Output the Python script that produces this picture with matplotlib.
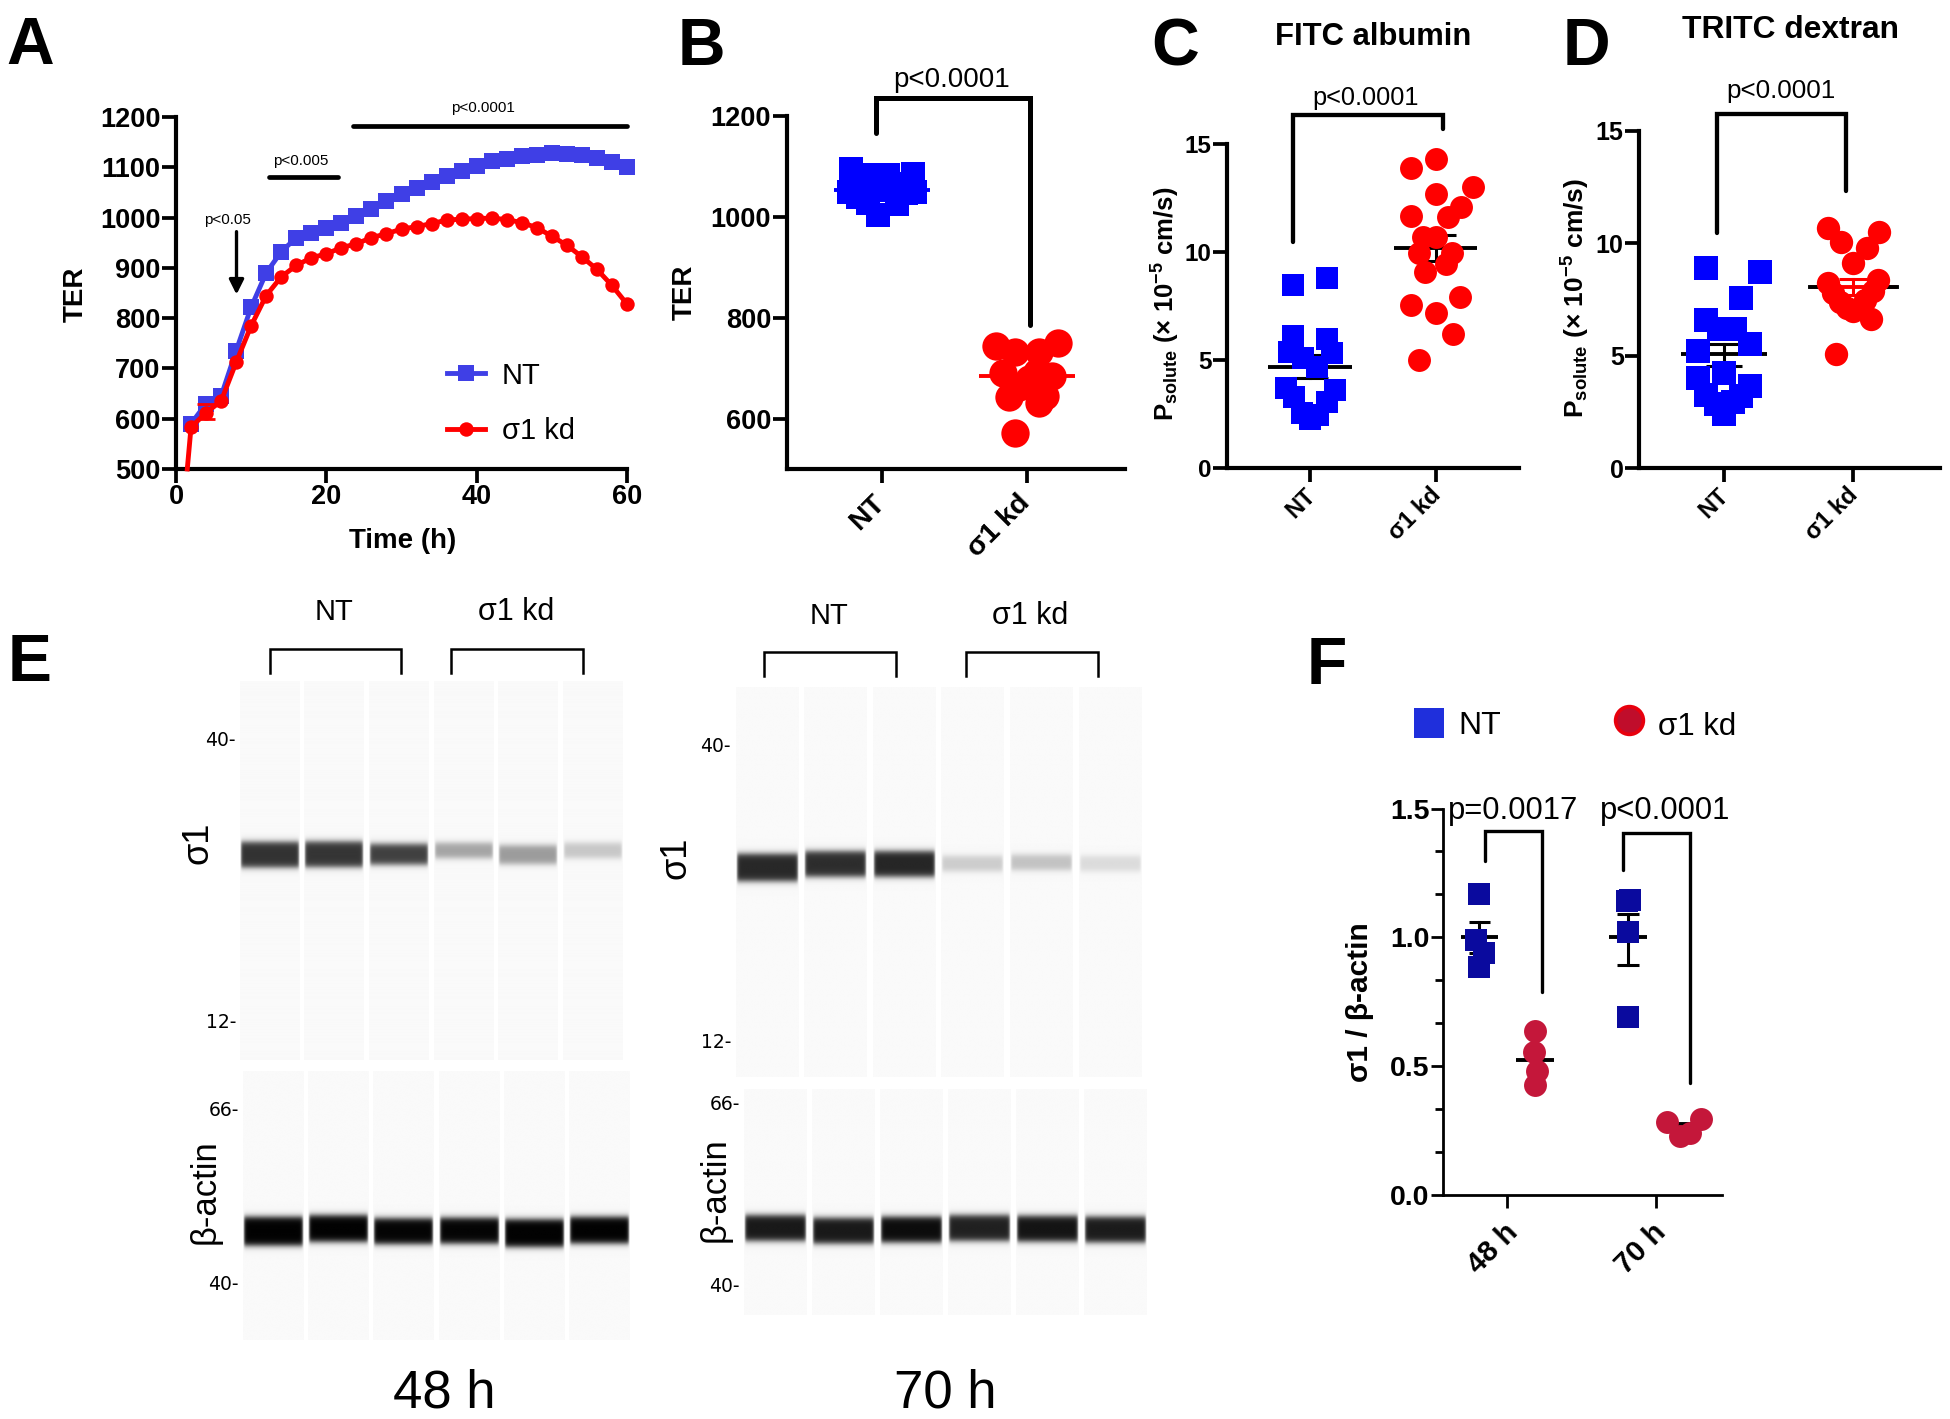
import numpy as np
import matplotlib
matplotlib.use("Agg")
import matplotlib.pyplot as plt
from matplotlib.transforms import ScaledTranslation

plt.rcParams['font.family'] = ['Liberation Sans', 'DejaVu Sans']
plt.rcParams['mathtext.fontset'] = 'custom'
plt.rcParams['mathtext.bf'] = 'Liberation Sans:bold'
plt.rcParams['mathtext.rm'] = 'Liberation Sans'
plt.rcParams['mathtext.it'] = 'Liberation Sans:italic'

W, H = 1950, 1419

# ======================== panel A, TER over time
time_h = [2, 4, 6, 8, 10, 12, 14, 16, 18, 20, 22, 24, 26, 28, 30, 32, 34, 36, 38, 40,
          42, 44, 46, 48, 50, 52, 54, 56, 58, 60]
ter_nt = [590, 630, 645, 735, 822, 890, 932, 960, 970, 980, 990, 1003, 1018, 1033, 1046,
          1058, 1070, 1082, 1092, 1102, 1112, 1117, 1123, 1125, 1128, 1127, 1124, 1118, 1110, 1100]
ter_kd = [583, 612, 635, 712, 785, 845, 882, 905, 920, 928, 940, 948, 960, 968, 977,
          982, 988, 995, 997, 998, 999, 996, 990, 980, 963, 945, 922, 897, 865, 828]
ter_kd_start = (1.5, 500)

# ======================== panel B, TER end point
b_nt_dx = [-.212, -.048, .043, .212, -.225, .23, -.163, .166, -.099, .101, -.03, -.129, .124, -.037, .055]
b_nt = [1095, 1082, 1082, 1085, 1048, 1049, 1038, 1046, 1026, 1024, 1004, 1065, 1065, 1052, 1052]
b_nt_mean = 1052
b_kd_dx = [-.211, -.085, .085, .211, -.169, .169, .014, -.056, -.127, .127, .085, -.085, .07]
b_kd = [743, 731, 732, 749, 691, 685, 678, 663, 642, 645, 631, 572, 692]
b_kd_mean = 685

# ======================== panel C, FITC albumin
c_nt_dx = [-.133, .138, -.135, .135, -.167, .172, -.056, .056, -.19, .199, -.127, .135, -.064, .064, 0]
c_nt = [8.49, 8.81, 6.13, 5.99, 5.39, 5.33, 5.1, 4.7, 3.73, 3.62, 3.3, 3.08, 2.56, 2.47, 2.27]
c_nt_mean, c_nt_sem = 4.7, (4.19, 5.24)
c_kd_dx = [-.198, 0, 0, .297, .201, .099, -.198, 0, -.099, -.132, .132, .083, -.083, -.198, .198, 0, .135, -.132]
c_kd = [13.87, 14.3, 12.65, 13.0, 12.07, 11.6, 11.65, 10.7, 10.7, 9.97, 9.97, 9.46, 9.09, 7.56, 7.9, 7.16, 6.2, 5.0]
c_kd_mean, c_kd_sem = 10.17, (9.58, 10.8)

# ======================== panel D, TRITC dextran
d_nt_dx = [-.135, .276, .135, -.135, .087, -.042, .2, -.2, 0, -.2, .2, .135, -.135, -.064, .07, 0]
d_nt = [8.9, 8.73, 7.56, 6.6, 6.2, 6.2, 5.54, 5.22, 4.25, 4.04, 3.65, 3.2, 3.28, 2.88, 2.96, 2.44]
d_nt_mean, d_nt_sem = 5.09, (4.57, 5.54)
d_kd_dx = [-.199, -.099, .199, .102, 0, -.194, .19, -.158, .151, -.104, .089, -.052, 0, .063, .139, -.135]
d_kd = [10.68, 10.08, 10.52, 9.81, 9.12, 8.25, 8.37, 7.8, 7.9, 7.41, 7.48, 7.13, 7.01, 7.13, 6.63, 5.08]
d_kd_mean, d_kd_sem = 8.08, (7.7, 8.42)

# ======================== panel F, sigma1 / actin
f_nt_48 = [1.168, 0.99, 0.94, 0.885]
f_kd_48 = [0.635, 0.556, 0.48, 0.426]
f_nt_70 = [1.14, 1.146, 1.02, 0.69]
f_nt_70_dx = [-.01, .012, 0, 0]
f_kd_70 = [0.283, 0.295, 0.228, 0.24]
f_kd_70_dx = [-.114, .119, -.028, .044]
f_labels = ['48 h', '70 h']

# ======================== panel E, band place (fraction of lane), thickness, darkness
s48_pos = [.458, .457, .457, .447, .458, .447]
s48_thick = [.067, .067, .054, .04, .049, .04]
s48_dark = [.78, .77, .73, .34, .37, .2]
a48_pos = [.597, .587, .597, .595, .604, .593]
a48_thick = [.106, .098, .095, .095, .102, .098]
a48_dark = [.97, .97, .96, .96, .97, .97]
s70_pos = [.464, .455, .455, .454, .451, .454]
s70_thick = [.07, .065, .065, .039, .039, .039]
s70_dark = [.82, .8, .83, .18, .22, .12]
a70_pos = [.615, .627, .622, .615, .618, .622]
a70_thick = [.113, .113, .113, .113, .113, .113]
a70_dark = [.88, .88, .93, .85, .9, .87]

NT_BLUE = '#0000ff'
KD_RED = '#ff0000'


def make_ax(left, right, top, bottom):
    ax = fig.add_axes([left / W, 1 - bottom / H, (right - left) / W, (bottom - top) / H])
    ax.spines['top'].set_visible(False)
    ax.spines['right'].set_visible(False)
    ax.patch.set_alpha(0)
    return ax


def style_ax(ax, spine=3.0, tick=10, width=2.7, size=19.5):
    ax.spines['left'].set_linewidth(spine)
    ax.spines['bottom'].set_linewidth(spine)
    ax.tick_params(length=tick, width=width, labelsize=size, pad=1)
    for lab in ax.get_yticklabels():
        lab.set_fontweight('bold')
    for lab in ax.get_xticklabels():
        lab.set_fontweight('bold')


# call after style_ax, tick_params puts the label transform back
def cat_xticks(ax, labels, size, shift=0, drop=0):
    ax.set_xticks([1, 2])
    ax.set_xticklabels(labels, rotation=45, ha='right', rotation_mode='anchor',
                       fontsize=size, fontweight='bold')
    off = ScaledTranslation(shift / 100, -drop / 100, fig.dpi_scale_trans)
    for lab in ax.get_xticklabels():
        lab.set_transform(lab.get_transform() + off)


def scatter_group(ax, center, dx, vals, marker, color, ms, mean, sem=None, line='k', half=.333, cap=.14):
    xs = [center + d for d in dx]
    ax.plot([center - half, center + half], [mean, mean], color=line, lw=2.8, zorder=2, solid_capstyle='butt')
    if sem is not None:
        ax.plot([center, center], sem, color=line, lw=2.2, zorder=2)
        for s in sem:
            ax.plot([center - cap, center + cap], [s, s], color=line, lw=2.2, zorder=2, solid_capstyle='butt')
    ax.plot(xs, vals, ls='none', marker=marker, color=color, ms=ms, mew=0, zorder=3, clip_on=False)


def bracket(ax, x0, x1, y0, ytop, y1, lw=3.0):
    ax.plot([x0, x0, x1, x1], [y0, ytop, ytop, y1], color='k', lw=lw, clip_on=False,
            solid_joinstyle='miter', solid_capstyle='round', zorder=4)


def gel(left, pitch, top, bottom, lane_frac, pos, thick, dark):
    ax = fig.add_axes([left / W, 1 - bottom / H, 6 * pitch / W, (bottom - top) / H])
    ax.axis('off')
    soft = 3.6 / (bottom - top)
    yy = np.linspace(0, 1, 700)
    xx = np.linspace(0, 1, 120)
    edge = np.tanh(xx / .03) * np.tanh((1 - xx) / .03)
    for i in range(6):
        up = pos[i] - thick[i] / 2
        low = pos[i] + thick[i] / 2
        prof = 0.5 * (np.tanh((yy - up) / soft) - np.tanh((yy - low) / soft))
        img = 0.977 - dark[i] * np.outer(prof, edge)
        ax.imshow(img, cmap='gray', vmin=0, vmax=1, aspect='auto', interpolation='bilinear',
                  extent=(i, i + lane_frac, 1, 0))
    ax.set_xlim(0, 6)
    ax.set_ylim(1, 0)


fig = plt.figure(figsize=(W / 100, H / 100), dpi=100, facecolor='white')

# ======================== A
axA = make_ax(176, 627, 117, 469)
axA.plot(time_h, ter_nt, color='#3f3fe6', lw=3.5, marker='s', ms=11, mew=0, label='NT', zorder=3, clip_on=False)
axA.plot([ter_kd_start[0]] + time_h, [ter_kd_start[1]] + ter_kd, color=KD_RED, lw=3.5, marker='o', ms=10.4,
         mew=0, label='σ1 kd', zorder=4, clip_on=False, markevery=list(range(1, 31)))
axA.errorbar([4], [615], yerr=15, color=KD_RED, capsize=6.5, capthick=2, lw=0, zorder=4)
axA.set_xlim(0, 60)
axA.set_ylim(500, 1200)
axA.set_xticks([0, 20, 40, 60])
axA.set_yticks(range(500, 1201, 100))
style_ax(axA)
axA.set_xlabel('Time (h)', fontsize=20, fontweight='bold')
axA.xaxis.set_label_coords((403 - 176) / 451, -(541 - 469) / 352)
axA.xaxis.label.set_va('center')
axA.set_ylabel('TER', fontsize=20, fontweight='bold')
axA.yaxis.set_label_coords((76 - 176) / 451, (469 - 294) / 352)
axA.yaxis.label.set_va('center')
axA.legend(loc='upper left', bbox_to_anchor=(.60, .305), frameon=False, fontsize=21, handlelength=1.3,
           handletextpad=.6, labelspacing=.95, borderpad=0, borderaxespad=0, markerscale=1.0)
axA.plot([23.5, 60], [1183, 1183], color='k', lw=3.4, clip_on=False, solid_capstyle='round')
axA.plot([12.4, 21.5], [1081, 1081], color='k', lw=3.4, clip_on=False, solid_capstyle='round')
axA.annotate('', xy=(8.05, 847), xytext=(8.05, 972),
             arrowprops=dict(arrowstyle='-|>', color='k', lw=2.4, mutation_scale=22, shrinkA=0, shrinkB=0))

# ======================== B
axB = make_ax(786.5, 1124.5, 115.6, 469)
scatter_group(axB, 1, b_nt_dx, b_nt, 's', NT_BLUE, 17.4, b_nt_mean, line=NT_BLUE)
scatter_group(axB, 2, b_kd_dx, b_kd, 'o', KD_RED, 20.4, b_kd_mean, line=KD_RED)
axB.set_xlim(.341, 2.672)
axB.set_ylim(500, 1200)
axB.set_yticks([600, 800, 1000, 1200])
style_ax(axB)
cat_xticks(axB, ['NT', 'σ1 kd'], 20.5, shift=-10, drop=6)
axB.set_ylabel('TER', fontsize=20, fontweight='bold')
axB.yaxis.set_label_coords((684.5 - 786.5) / 338, (469 - 292.7) / 353.4)
axB.yaxis.label.set_va('center')
bracket(axB, .959, 2.02, 1165.5, 1235, 785, lw=3.6)

# ======================== C
axC = make_ax(1227, 1519, 143.6, 468.4)
scatter_group(axC, 1, c_nt_dx, c_nt, 's', NT_BLUE, 16.3, c_nt_mean, c_nt_sem)
scatter_group(axC, 2, c_kd_dx, c_kd, 'o', KD_RED, 16.5, c_kd_mean, c_kd_sem, cap=.165)
axC.set_xlim(.339, 2.664)
axC.set_ylim(0, 15)
axC.set_yticks([0, 5, 10, 15])
style_ax(axC, size=17.5)
cat_xticks(axC, ['NT', 'σ1 kd'], 17, shift=-6)
axC.set_ylabel(r'$\mathbf{P_{solute}\ (\times\ 10^{-5}\ cm/s)}$', fontsize=18.5)
axC.yaxis.set_label_coords((1166 - 1227) / 292, (468.4 - 304) / 324.8)
axC.yaxis.label.set_va('center')
bracket(axC, .861, 2.059, 10.46, 16.3, 15.68, lw=3.1)

# ======================== D
axD = make_ax(1639, 1940, 131, 468.4)
scatter_group(axD, 1, d_nt_dx, d_nt, 's', NT_BLUE, 16.8, d_nt_mean, d_nt_sem)
scatter_group(axD, 2, d_kd_dx, d_kd, 'o', KD_RED, 16.8, d_kd_mean, d_kd_sem, line=KD_RED, cap=.108)
axD.plot([2 - .333, 2 - .2], [d_kd_mean, d_kd_mean], color='k', lw=2.8, zorder=2.5)
axD.plot([2 + .2, 2 + .333], [d_kd_mean, d_kd_mean], color='k', lw=2.8, zorder=2.5)
axD.set_xlim(.344, 2.668)
axD.set_ylim(0, 15)
axD.set_yticks([0, 5, 10, 15])
style_ax(axD, size=18)
cat_xticks(axD, ['NT', 'σ1 kd'], 17, shift=-7)
axD.set_ylabel(r'$\mathbf{P_{solute}\ (\times\ 10^{-5}\ cm/s)}$', fontsize=19)
axD.yaxis.set_label_coords((1575.7 - 1639) / 301, (468.4 - 298) / 337.4)
axD.yaxis.label.set_va('center')
bracket(axD, .95, 1.945, 10.48, 15.76, 12.33, lw=3.1)

# ======================== F
axF = make_ax(1443.3, 1721.7, 808.6, 1194.6)
off = .187
scatter_group(axF, 1 - off, [0, -.02, .03, 0], f_nt_48, 's', '#0a0a9e', 16, 1.0, (.94, 1.06), half=.126, cap=.073)
scatter_group(axF, 1 + off, [0, -.01, .01, 0], f_kd_48, 'o', '#c4173a', 16.5, .524, half=.126)
scatter_group(axF, 2 - off, f_nt_70_dx, f_nt_70, 's', '#0a0a9e', 16, 1.0, (.893, 1.09), half=.126, cap=.073)
scatter_group(axF, 2 + off, f_kd_70_dx, f_kd_70, 'o', '#c4173a', 16.5, .273, half=.08)
axF.set_xlim(.57, 2.442)
axF.set_ylim(0, 1.5)
axF.set_yticks([0, .5, 1, 1.5])
axF.set_yticklabels(['0.0', '0.5', '1.0', '1.5'])
axF.set_yticks([1 / 6, 2 / 6, 4 / 6, 5 / 6, 7 / 6, 8 / 6], minor=True)
style_ax(axF, spine=2.0, tick=9, width=2.0, size=20.5)
axF.tick_params(axis='y', which='minor', length=6, width=2.0)
cat_xticks(axF, f_labels, 21, shift=-4, drop=10)
axF.set_ylabel('σ1 / β-actin', fontsize=21.5, fontweight='bold')
axF.yaxis.set_label_coords((1360 - 1443.3) / 278.4, (1194.6 - 1002) / 386)
axF.yaxis.label.set_va('center')
bracket(axF, .848, 1.231, 1.295, 1.413, .789, lw=2.4)
bracket(axF, 1.776, 2.227, 1.262, 1.405, .434, lw=2.4)

# ======================== E, gels
gel(239.6, 64.7, 681, 1059.6, .923, s48_pos, s48_thick, s48_dark)
gel(243, 65.2, 1070.8, 1340, .93, a48_pos, a48_thick, a48_dark)
gel(735.6, 68.6, 687, 1077.5, .918, s70_pos, s70_thick, s70_dark)
gel(743.6, 68, 1089, 1314.7, .917, a70_pos, a70_thick, a70_dark)

# ======================== text and lines placed by pixel
pix = fig.add_axes([0, 0, 1, 1])
pix.set_xlim(0, W)
pix.set_ylim(H, 0)
pix.axis('off')


def label(x, y, s, size, weight='normal', rot=0, ha='center', family=None):
    pix.text(x, y, s, fontsize=size, fontweight=weight, rotation=rot, ha=ha, va='center', family=family)


for letter, x, y in [('A', 30, 47), ('B', 701, 48), ('C', 1175, 48), ('D', 1586, 48), ('E', 30, 664), ('F', 1327, 667)]:
    label(x, y, letter, 47.5, 'bold')

label(1373, 37, 'FITC albumin', 22.3, 'bold')
label(1790, 30, 'TRITC dextran', 22.9, 'bold')

label(483, 108, 'p<0.0001', 11)
label(301, 161.5, 'p<0.005', 11)
label(227.7, 220, 'p<0.05', 11)
label(952, 80, 'p<0.0001', 20)
label(1366, 98, 'p<0.0001', 18.3)
label(1781, 91, 'p<0.0001', 18.7)
label(1513, 811, 'p=0.0017', 22.3)
label(1665, 811, 'p<0.0001', 22.3)

# F legend
pix.plot([1429], [723], marker='s', ms=21.6, mew=0, color='#1f2fdc')
label(1458, 726, 'NT', 23, ha='left')
pix.plot([1629], [720], marker='o', ms=20, mew=2.6, mfc='#c00d2b', mec='#e8000d')
label(1658, 727, 'σ1 kd', 22.5, ha='left')

# E brackets and labels
for x0, x1, top in [(269.5, 401, 648.9), (451, 583, 648.9), (763.8, 895.5, 652.4), (965.5, 1097.8, 652.4)]:
    pix.plot([x0, x0, x1, x1], [top + 24, top, top, top + 24], color='k', lw=1.8, solid_joinstyle='miter')
label(334, 612, 'NT', 21)
label(516.5, 612, 'σ1 kd', 22)
label(829, 616, 'NT', 21)
label(1030, 616, 'σ1 kd', 22)
label(198, 843, 'σ1', 26, rot=90)
label(205, 1192, 'β-actin', 25, rot=90)
label(675.6, 858, 'σ1', 26, rot=90)
label(714.7, 1190, 'β-actin', 25, rot=90)
for txt, x, y in [('40-', 236, 741), ('12-', 236, 1022), ('66-', 239, 1111), ('40-', 239, 1284),
                  ('40-', 731, 746), ('12-', 731, 1043), ('66-', 740, 1105), ('40-', 740, 1286)]:
    label(x, y, txt, 13.5, ha='right', family='DejaVu Sans')
label(444, 1394, '48 h', 38)
label(945, 1394, '70 h', 38)

plt.savefig('out.png', dpi=100)
